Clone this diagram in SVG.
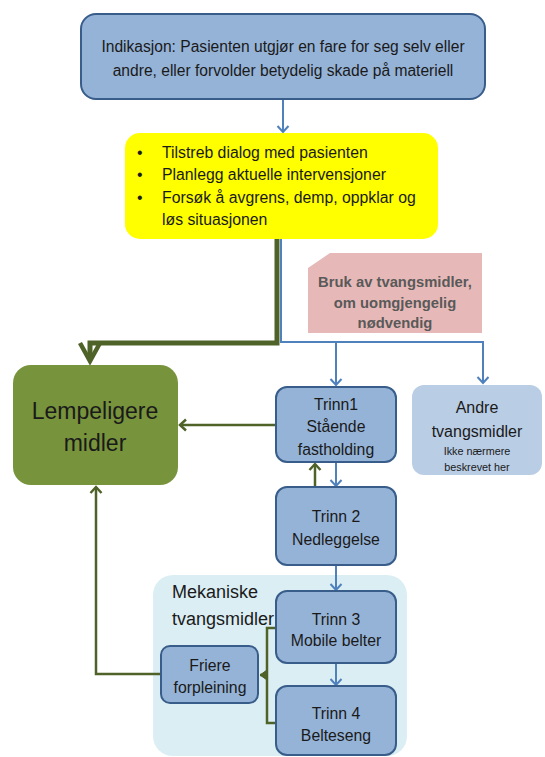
<svg xmlns="http://www.w3.org/2000/svg" width="545" height="757" viewBox="0 0 545 757">
<defs>
<style>
text{font-family:"Liberation Sans",Arial,sans-serif;fill:#1a1a1a;text-anchor:middle}
.box{fill:#95b3d7;stroke:#385d8a;stroke-width:2}
.bl{fill:none;stroke:#4f81bd;stroke-width:2}
.gr{fill:none;stroke:#4f6228;stroke-width:2.5}
.t14{font-size:15.8px}
</style>
<marker id="ab" markerUnits="userSpaceOnUse" markerWidth="16" markerHeight="16" refX="0" refY="0" viewBox="-8 -8 16 16" orient="auto">
<path d="M-6,-5.5 L0,0 L-6,5.5" fill="none" stroke="#4f81bd" stroke-width="2"/>
</marker>
<marker id="ag" markerUnits="userSpaceOnUse" markerWidth="16" markerHeight="16" refX="0" refY="0" viewBox="-8 -8 16 16" orient="auto">
<path d="M-6,-5.5 L0,0 L-6,5.5" fill="none" stroke="#4f6228" stroke-width="2.5"/>
</marker>
<marker id="agf" markerUnits="userSpaceOnUse" markerWidth="16" markerHeight="16" refX="0" refY="0" viewBox="-8 -8 16 16" orient="auto">
<path d="M-7,-5 L0,0 L-7,5 Z" fill="#4f6228" stroke="#4f6228" stroke-width="1"/>
</marker>
</defs>

<g id="container-mekaniske">
<rect x="153" y="575" width="254" height="181" rx="20" fill="#dbeef4"/>
<text x="172" y="598" style="font-size:18px;text-anchor:start">Mekaniske</text>
<text x="172" y="625" style="font-size:18px;text-anchor:start">tvangsmidler</text>
</g>

<g id="connectors">
<line class="bl" x1="283" y1="99" x2="283" y2="132" marker-end="url(#ab)"/>
<polyline class="bl" points="281,239 281,342 483,342 483,383" marker-end="url(#ab)"/>
<line class="bl" x1="336" y1="342" x2="336" y2="385" marker-end="url(#ab)"/>
<polyline fill="none" stroke="#4f6228" stroke-width="5" points="277,239 277,343 90,343 90,360"/>
<path d="M80,343 L90,361 L100,343" fill="none" stroke="#4f6228" stroke-width="4.5" stroke-linejoin="miter"/>
<line class="gr" x1="276" y1="425" x2="180" y2="425" marker-end="url(#ag)"/>
<line class="bl" x1="336" y1="462" x2="336" y2="486" marker-end="url(#ab)"/>
<line class="gr" x1="315" y1="487" x2="315" y2="464" marker-end="url(#ag)"/>
<line class="bl" x1="336" y1="565" x2="336" y2="590" marker-end="url(#ab)"/>
<line class="bl" x1="336" y1="663" x2="336" y2="685" marker-end="url(#ab)"/>
<polyline class="gr" points="276,628 267,628 267,723 276,723"/>
<line class="gr" x1="267" y1="675" x2="260" y2="675" marker-end="url(#agf)"/>
<polyline class="gr" points="161,674 96,674 96,487" marker-end="url(#ag)"/>
</g>

<g id="indikasjon">
<rect class="box" x="81" y="14" width="404" height="85" rx="15"/>
<text x="283" y="52" style="font-size:15.6px">Indikasjon: Pasienten utgjør en fare for seg selv eller</text>
<text x="283" y="76" style="font-size:15.6px">andre, eller forvolder betydelig skade på materiell</text>
</g>

<g id="dialog">
<rect x="125" y="133" width="313" height="106" rx="15" fill="#ffff00"/>
<g style="font-size:15.8px;text-anchor:start">
<text x="137" y="158" style="text-anchor:start">•</text>
<text x="162" y="158" style="text-anchor:start">Tilstreb dialog med pasienten</text>
<text x="137" y="180" style="text-anchor:start">•</text>
<text x="162" y="180" style="text-anchor:start">Planlegg aktuelle intervensjoner</text>
<text x="137" y="203" style="text-anchor:start">•</text>
<text x="162" y="203" style="text-anchor:start">Forsøk å avgrens, demp, oppklar og</text>
<text x="162" y="225" style="text-anchor:start">løs situasjonen</text>
</g>
</g>

<g id="bruk">
<path d="M330,253 L482,253 L482,333 L308,333 L308,268 Z" fill="#e6b9b8"/>
<text x="395" y="287" style="font-size:14.8px;font-weight:bold;fill:#595959">Bruk av tvangsmidler,</text>
<text x="395" y="308" style="font-size:14.8px;font-weight:bold;fill:#595959">om uomgjengelig</text>
<text x="395" y="328" style="font-size:14.8px;font-weight:bold;fill:#595959">nødvendig</text>
</g>

<g id="lempeligere">
<rect x="13" y="365" width="165" height="120" rx="18" fill="#77933c"/>
<text x="95" y="419" style="font-size:23px">Lempeligere</text>
<text x="95" y="451" style="font-size:23px">midler</text>
</g>

<g id="trinn1">
<rect class="box" x="276" y="387" width="120" height="75" rx="11"/>
<text class="t14" x="336" y="410">Trinn1</text>
<text class="t14" x="336" y="432">Stående</text>
<text class="t14" x="336" y="455">fastholding</text>
</g>

<g id="andre">
<rect x="412" y="385" width="130" height="90" rx="12" fill="#b9cde5"/>
<text x="477" y="413" style="font-size:16px">Andre</text>
<text x="477" y="437" style="font-size:16px">tvangsmidler</text>
<text x="477" y="455" style="font-size:10.8px">Ikke nærmere</text>
<text x="477" y="471" style="font-size:10.8px">beskrevet her</text>
</g>

<g id="trinn2">
<rect class="box" x="276" y="487" width="120" height="78" rx="11"/>
<text class="t14" x="336" y="522">Trinn 2</text>
<text class="t14" x="336" y="545">Nedleggelse</text>
</g>

<g id="trinn3">
<rect class="box" x="276" y="591" width="120" height="72" rx="11"/>
<text class="t14" x="336" y="625">Trinn 3</text>
<text class="t14" x="336" y="646">Mobile belter</text>
</g>

<g id="trinn4">
<rect class="box" x="276" y="686" width="120" height="69" rx="11"/>
<text class="t14" x="336" y="719">Trinn 4</text>
<text class="t14" x="336" y="741">Belteseng</text>
</g>

<g id="friere">
<rect class="box" x="161" y="646" width="97" height="57" rx="9"/>
<text class="t14" x="210" y="671">Friere</text>
<text class="t14" x="210" y="693">forpleining</text>
</g>
</svg>
